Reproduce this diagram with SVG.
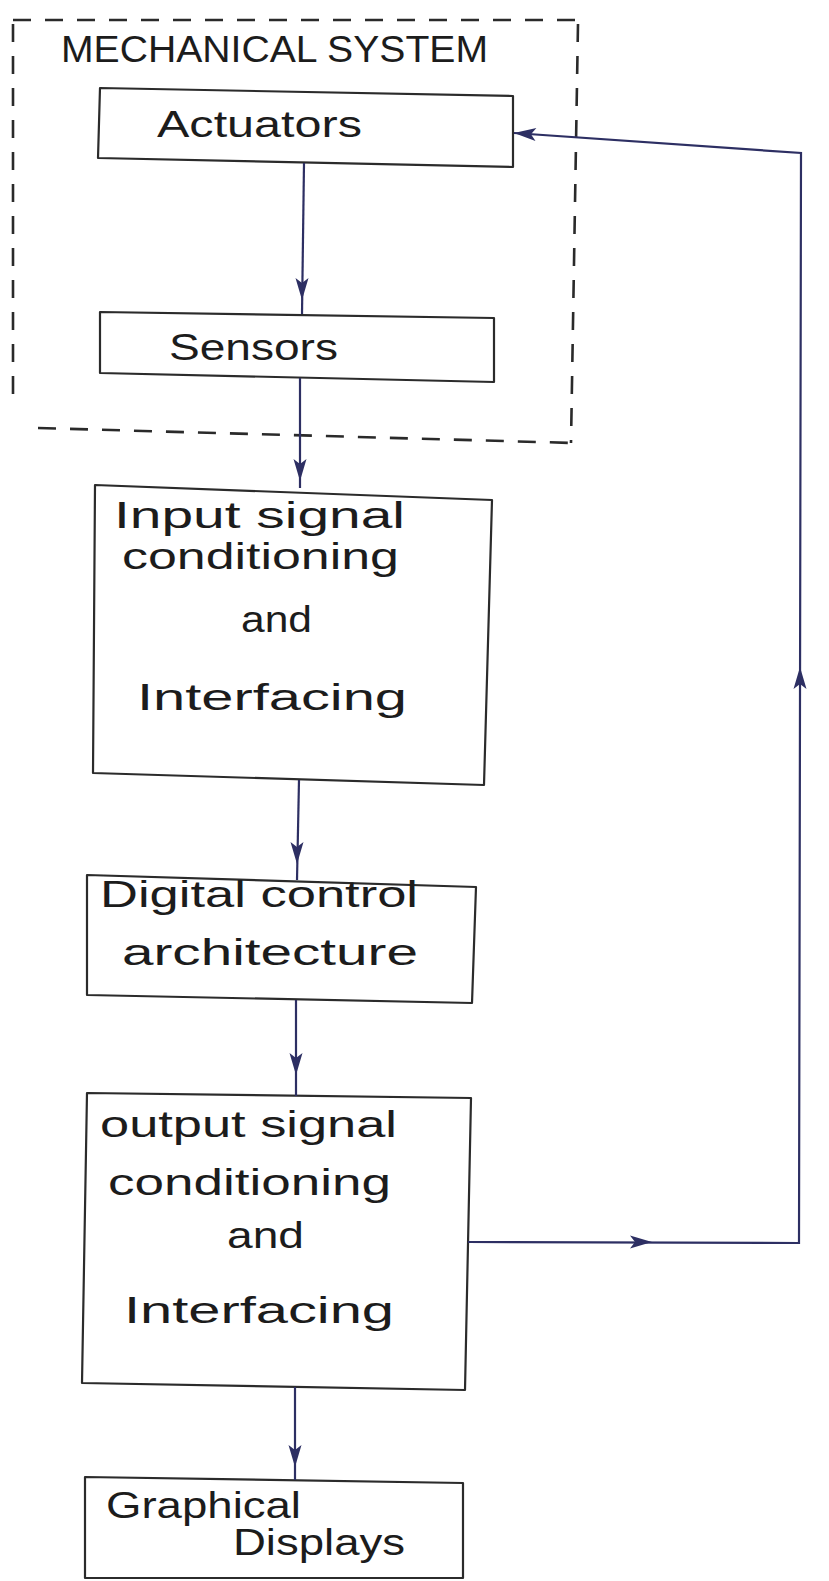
<svg xmlns="http://www.w3.org/2000/svg" xmlns:xlink="http://www.w3.org/1999/xlink" width="829" height="1581" viewBox="0 0 829 1581">
<style>
.box{fill:none;stroke:#2b2b2b;stroke-width:2.2;stroke-linejoin:round}
.dash{fill:none;stroke:#2a2a2a;stroke-width:2.6;stroke-dasharray:18 14}
.con{fill:none;stroke:#2d2f63;stroke-width:2.2}
.lbl{font-family:"Liberation Sans",Arial,sans-serif;fill:#1c1c1c;font-size:36px}
.ah{fill:#2d2f63}
</style>
<defs>
<path id="ah" d="M0,0 L-22,-6.5 L-17,0 L-22,6.5 Z"/>
</defs>
<rect x="0" y="0" width="829" height="1581" fill="#ffffff"/>

<g id="mechanical-system">
<path class="dash" d="M13,20 L578,20"/>
<path class="dash" d="M13,24 L13,402"/>
<path class="dash" d="M578,24 L571,443"/>
<path class="dash" d="M38,428 L574,443"/>
<text class="lbl" x="61" y="62" font-size="38" textLength="427" lengthAdjust="spacingAndGlyphs">MECHANICAL SYSTEM</text>
</g>

<g id="actuators">
<polygon class="box" points="100,88 513,96 513,167 98,158"/>
<text class="lbl" x="157" y="137" font-size="40" textLength="205" lengthAdjust="spacingAndGlyphs">Actuators</text>
</g>

<g id="sensors">
<polygon class="box" points="100,312 494,318 494,382 100,373"/>
<text class="lbl" x="169" y="360" font-size="40" textLength="169" lengthAdjust="spacingAndGlyphs">Sensors</text>
</g>

<g id="input-signal-conditioning">
<polygon class="box" points="95,485 492,500 484,785 93,773"/>
<text class="lbl" x="114" y="528" textLength="291" lengthAdjust="spacingAndGlyphs">Input signal</text>
<text class="lbl" x="122" y="569" textLength="277" lengthAdjust="spacingAndGlyphs">conditioning</text>
<text class="lbl" x="241" y="632" textLength="71" lengthAdjust="spacingAndGlyphs">and</text>
<text class="lbl" x="137" y="710" textLength="270" lengthAdjust="spacingAndGlyphs">Interfacing</text>
</g>

<g id="digital-control-architecture">
<polygon class="box" points="87,875 476,887 472,1003 87,995"/>
<text class="lbl" x="100" y="907" textLength="318" lengthAdjust="spacingAndGlyphs">Digital control</text>
<text class="lbl" x="122" y="965" textLength="296" lengthAdjust="spacingAndGlyphs">architecture</text>
</g>

<g id="output-signal-conditioning">
<polygon class="box" points="87,1093 471,1098 465,1390 82,1383"/>
<text class="lbl" x="100" y="1137" textLength="297" lengthAdjust="spacingAndGlyphs">output signal</text>
<text class="lbl" x="108" y="1195" textLength="283" lengthAdjust="spacingAndGlyphs">conditioning</text>
<text class="lbl" x="227" y="1248" textLength="77" lengthAdjust="spacingAndGlyphs">and</text>
<text class="lbl" x="124" y="1323" textLength="270" lengthAdjust="spacingAndGlyphs">Interfacing</text>
</g>

<g id="graphical-displays">
<polygon class="box" points="85,1477 463,1483 463,1578 85,1578"/>
<text class="lbl" x="106" y="1518" textLength="195" lengthAdjust="spacingAndGlyphs">Graphical</text>
<text class="lbl" x="233" y="1555" textLength="172" lengthAdjust="spacingAndGlyphs">Displays</text>
</g>

<g id="connectors">
<path class="con" d="M304,163 L302,314"/>
<use xlink:href="#ah" class="ah" transform="translate(302,300) rotate(90)"/>
<path class="con" d="M300,378 L300,488"/>
<use xlink:href="#ah" class="ah" transform="translate(300,481) rotate(90)"/>
<path class="con" d="M299,780 L297,880"/>
<use xlink:href="#ah" class="ah" transform="translate(297,864) rotate(90)"/>
<path class="con" d="M296,1000 L296,1096"/>
<use xlink:href="#ah" class="ah" transform="translate(296,1075) rotate(90)"/>
<path class="con" d="M295,1387 L295,1480"/>
<use xlink:href="#ah" class="ah" transform="translate(295,1467) rotate(90)"/>
<path class="con" d="M468,1242 L799,1243 L801,153 L514,133"/>
<use xlink:href="#ah" class="ah" transform="translate(652,1242) rotate(0)"/>
<use xlink:href="#ah" class="ah" transform="translate(800,667) rotate(-90)"/>
<use xlink:href="#ah" class="ah" transform="translate(514,133) rotate(184)"/>
</g>
</svg>
